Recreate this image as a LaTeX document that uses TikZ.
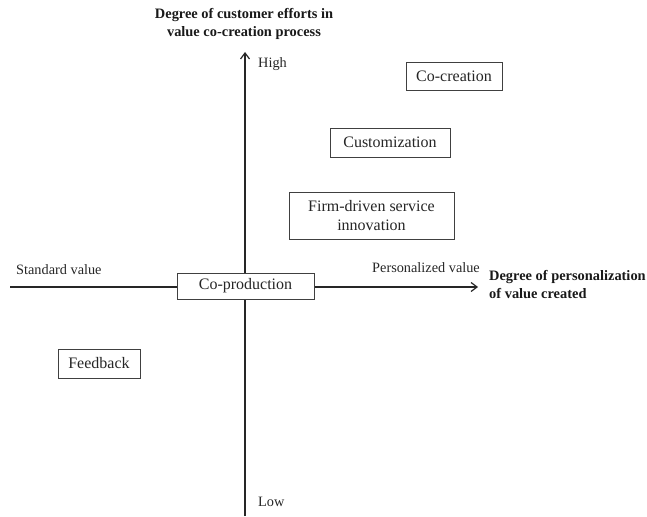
\documentclass[tikz,border=0pt]{standalone}
\usepackage{fontspec}
\setmainfont{Liberation Serif}
\usetikzlibrary{arrows.meta}
\begin{document}
\begin{tikzpicture}[x=1pt,y=-1pt,
  axisline/.style={line width=1.3pt, draw=black!85},
  tip/.style={-{Straight Barb[length=6pt,width=9pt,line width=1.2pt]}},
  boxnode/.style={draw=black!75, line width=0.9pt, fill=white, inner sep=0pt, align=center,
     font=\fontsize{16}{19}\selectfont, text=black!85},
  lbl/.style={inner sep=0pt, font=\fontsize{14.3}{17}\selectfont, text=black!85},
  title/.style={inner sep=0pt, align=center, font=\fontsize{14.4}{18}\selectfont\bfseries, text=black!90}]
\useasboundingbox (0,0) rectangle (647,516);
\coordinate (vbot) at (245,516);
\coordinate (vtop) at (245,52);
\coordinate (hleft) at (10,287);
\coordinate (hright) at (478,287);
\draw[axisline, tip] (vbot) -- (vtop);
\draw[axisline, tip] (hleft) -- (hright);
\node[boxnode, minimum width=137pt, minimum height=26pt] (coprod) at (245.5,286) {Co-production};
\node[boxnode, minimum width=96pt, minimum height=28pt] (cocre) at (454,76) {Co-creation};
\node[boxnode, minimum width=120pt, minimum height=29pt] (custom) at (390,142.5) {Customization};
\node[boxnode, minimum width=165pt, minimum height=47pt] (firm) at (371.5,215.5) {Firm-driven service\\innovation};
\node[boxnode, minimum width=82pt, minimum height=29pt] (feed) at (99,363.5) {Feedback};
\node[title] (ytitle) at (244,24) {Degree of customer efforts in\\value co-creation process};
\node[title, align=left, anchor=west] (xtitle) at (489,285) {Degree of personalization\\of value created};
\node[lbl, anchor=west] (high) at (258,64) {High};
\node[lbl, anchor=west] (low) at (258,502) {Low};
\node[lbl, anchor=west] (std) at (16,270) {Standard value};
\node[lbl, anchor=west] (pers) at (372,268) {Personalized value};
\end{tikzpicture}
\end{document}
